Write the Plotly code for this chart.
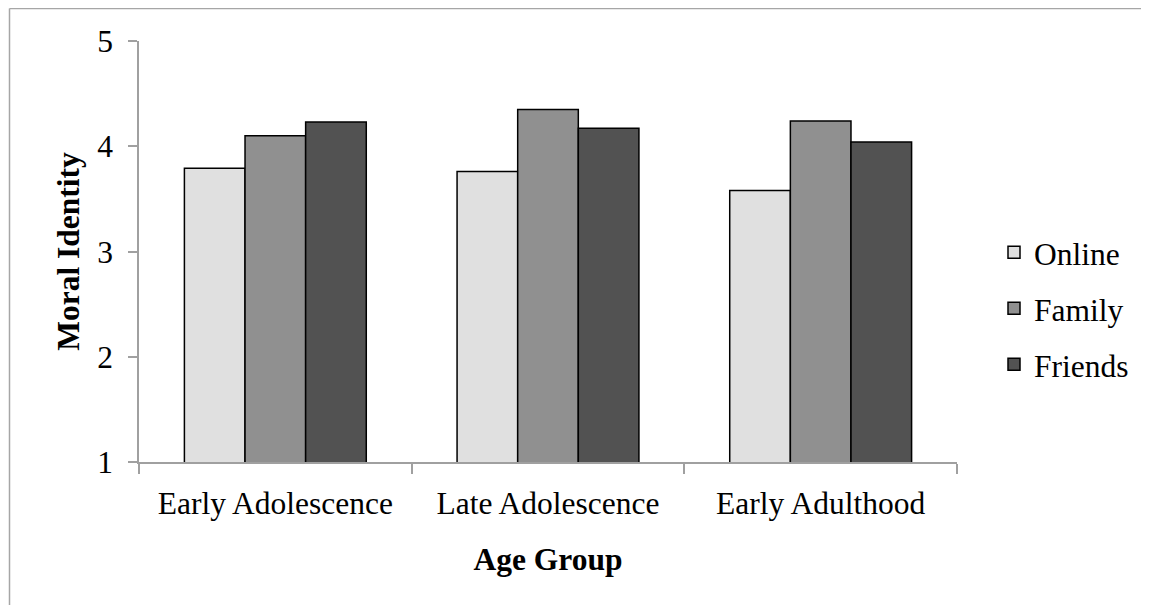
import plotly.graph_objects as go

categories = ["Early Adolescence", "Late Adolescence", "Early Adulthood"]
series_names = ["Online", "Family", "Friends"]
online = [3.79, 3.76, 3.58]
family = [4.10, 4.35, 4.24]
friends = [4.23, 4.17, 4.04]
colors = ["#e0e0e0", "#909090", "#525252"]
y_ticks = [1, 2, 3, 4, 5]

FONT = "Liberation Serif, Times New Roman, serif"
# page is offset by the 8px default body margin
OFF = 8
W, H = 1149 - OFF, 605 - OFF
L, T = 139 - OFF, 41 - OFF
PW, PH = 818, 421
R, B = W - L - PW, H - T - PH

fig = go.Figure()
for name, vals, col in zip(series_names, [online, family, friends], colors):
    fig.add_trace(go.Bar(
        name=name, x=categories, y=vals,
        marker=dict(color=col, line=dict(color="#000000", width=1.5)),
        legendgroup=name,
    ))

# outer frame (top and left edges visible)
fy = 1 + (T - 0.5) / PH
fx = (1.5 - L) / PW
fig.add_shape(type="line", xref="paper", yref="paper",
              x0=fx, x1=(W + 5 - L) / PW, y0=fy, y1=fy,
              line=dict(color="#a6a6a6", width=1.5))
fig.add_shape(type="line", xref="paper", yref="paper",
              x0=fx, x1=fx, y0=fy, y1=-(B + 5) / PH,
              line=dict(color="#a6a6a6", width=1.5))

fig.update_layout(
    width=W, height=H,
    margin=dict(l=L, r=R, t=T, b=B),
    paper_bgcolor="white", plot_bgcolor="white",
    barmode="group", bargap=0.333, bargroupgap=0,
    font=dict(family=FONT, size=31.5, color="#000000"),
    legend=dict(x=(994 - 139) / PW, xanchor="left", y=0.365, yanchor="middle",
                font=dict(size=31.5), tracegroupgap=12, traceorder="grouped",
                bgcolor="rgba(0,0,0,0)"),
    xaxis=dict(
        showline=True, linecolor="#a0a0a0", linewidth=1.5,
        ticks="outside", tickson="boundaries", ticklen=10, tickcolor="#a0a0a0", tickwidth=1.5,
        showgrid=False, ticklabelstandoff=12,
        title=dict(text="<b>Age Group</b>", font=dict(size=31.5), standoff=28),
    ),
    yaxis=dict(
        range=[1, 5], tickvals=y_ticks, showline=True, linecolor="#a0a0a0", linewidth=1.5,
        ticks="outside", ticklen=9, tickcolor="#a0a0a0", tickwidth=1.5,
        showgrid=False, zeroline=False, ticklabelstandoff=9,
        title=dict(text="<b>Moral Identity</b>", font=dict(size=31.5), standoff=8),
    ),
)

fig.write_html("out.html")
